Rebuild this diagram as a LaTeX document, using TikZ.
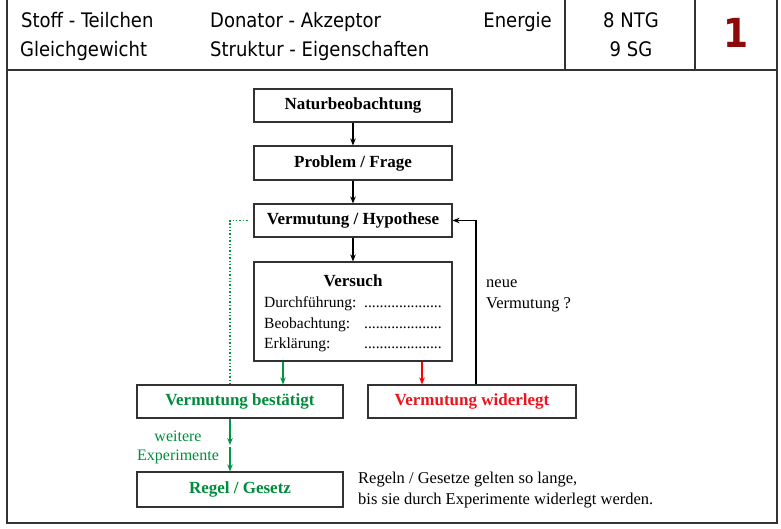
\documentclass[tikz,border=0pt]{standalone}
\usepackage{fontspec}
\setmainfont{Liberation Serif}
\newfontfamily\hdfont{DejaVu Sans Condensed}
\usetikzlibrary{arrows.meta,calc}
\definecolor{grn}{RGB}{0,150,70}
\definecolor{grntxt}{RGB}{0,140,60}
\definecolor{redtxt}{RGB}{235,20,30}
\definecolor{maroon}{RGB}{140,10,10}
\definecolor{frame}{RGB}{50,50,50}
\begin{document}
\begin{tikzpicture}[x=1pt,y=-1pt,
  box/.style={draw=frame,line width=1.1pt,inner sep=0pt,align=center},
  ttl/.style={font=\fontsize{17}{19}\selectfont\bfseries},
  txt/.style={font=\fontsize{15.5}{18}\selectfont,inner sep=0pt},
  hd/.style={font=\hdfont\fontsize{20}{22}\selectfont,inner sep=0pt},
  arr/.style={line width=1.3pt,-{Stealth[length=7pt,width=5.5pt]}},
  rule/.style={draw=frame,line width=1.1pt}]
\useasboundingbox (0,0) rectangle (781,528);
% frame
\draw[rule] (7,0) -- (7,523) -- (777,523) -- (777,0);
\draw[rule] (7,70) -- (777,70);
\draw[rule] (565,0) -- (565,70);
\draw[rule] (695,0) -- (695,70);
% header texts
\node[hd,anchor=base west] (h1) at (21,27) {Stoff - Teilchen};
\node[hd,anchor=base west] (h2) at (20,56) {Gleichgewicht};
\node[hd,anchor=base west] (h3) at (210,27) {Donator - Akzeptor};
\node[hd,anchor=base west] (h4) at (210,56) {Struktur - Eigenschaften};
\node[hd,anchor=base east] (h5) at (552,27) {Energie};
\node[hd,anchor=base] (h6) at (631,27) {8 NTG};
\node[hd,anchor=base] (h7) at (631,56) {9 SG};
\node[font=\hdfont\fontsize{40}{44}\selectfont\bfseries,text=maroon,inner sep=0pt] (num) at (736,33) {1};
% boxes
\node[box,ttl,minimum width=198pt,minimum height=33pt] (nat) at (353,105.5) {Naturbeobachtung};
\node[box,ttl,minimum width=198pt,minimum height=34pt] (prob) at (353,163) {Problem / Frage};
\node[box,ttl,minimum width=198pt,minimum height=33pt] (hyp) at (353,220.5) {Vermutung / Hypothese};
\node[box,minimum width=198pt,minimum height=99pt] (vers) at (353,311.5) {};
\node[ttl,inner sep=0pt,anchor=base] (vt) at (353,286) {Versuch};
\node[txt,anchor=base west] (l1) at (264,307) {Durchführung:};
\node[txt,anchor=base west] (l2) at (264,328) {Beobachtung:};
\node[txt,anchor=base west] (l3) at (264,348) {Erklärung:};
\node[txt,anchor=base west] (d1) at (364,307) {....................};
\node[txt,anchor=base west] (d2) at (364,328) {....................};
\node[txt,anchor=base west] (d3) at (364,348) {....................};
\node[box,ttl,text=grntxt,minimum width=206pt,minimum height=33pt] (best) at (240,401.5) {Vermutung bestätigt};
\node[box,ttl,text=redtxt,minimum width=208pt,minimum height=33pt] (wid) at (472,401.5) {Vermutung widerlegt};
\node[box,ttl,text=grntxt,minimum width=206pt,minimum height=35pt] (reg) at (240,489.5) {Regel / Gesetz};
% labels
\node[txt,font=\fontsize{16.5}{18}\selectfont,anchor=base west] (n1) at (486,287) {neue};
\node[txt,font=\fontsize{16.5}{18}\selectfont,anchor=base west] (n2) at (486,308) {Vermutung ?};
\node[txt,font=\fontsize{16}{18}\selectfont,text=grntxt,anchor=base] (w1) at (178,441) {weitere};
\node[txt,font=\fontsize{16}{18}\selectfont,text=grntxt,anchor=base] (w2) at (178,460) {Experimente};
\node[txt,font=\fontsize{16.5}{18}\selectfont,anchor=base west] (r1) at (358,483) {Regeln / Gesetze gelten so lange,};
\node[txt,font=\fontsize{16.5}{18}\selectfont,anchor=base west] (r2) at (358,504) {bis sie durch Experimente widerlegt werden.};
% coordinates
\coordinate (gx) at (283,0);
\coordinate (rx) at (422,0);
\coordinate (fx) at (476,0);
\coordinate (dx) at (230,0);
\coordinate (m1) at (230,445);
\coordinate (m2) at (230,447);
% connectors
\draw[arr] (nat) -- (prob);
\draw[arr] (prob) -- (hyp);
\draw[arr] (hyp) -- (vers);
\draw[arr,grn] (vers.south -| gx) -- (best.north -| gx);
\draw[arr,red] (vers.south -| rx) -- (wid.north -| rx);
\draw[arr] (wid.north -| fx) -- (fx |- hyp.east) -- (hyp.east);
\draw[grn,line width=1.4pt,dotted,shorten >=4pt] (best.north -| dx) -- (dx |- hyp.west) -- (hyp.west);
\draw[arr,grn] (best.south -| dx) -- (m1);
\draw[arr,grn] (m2) -- (reg.north -| dx);
\end{tikzpicture}
\end{document}
